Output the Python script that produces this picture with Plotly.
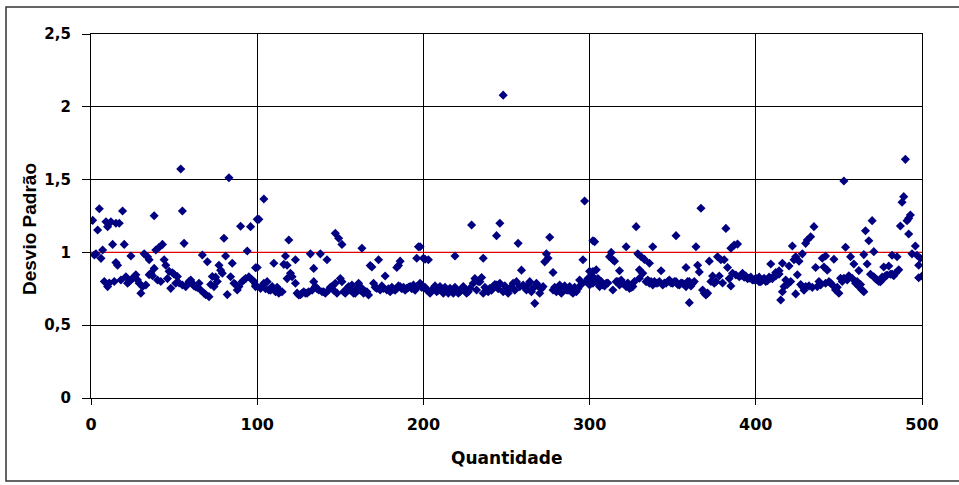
import plotly.graph_objects as go

# Segment 0-100
x_a = [1,5,19,38,10,4,9,12,15,17,54,55,83,90,96,100,80,13,20,56,43,41,39,94,7,2,6,24,32,34,35,67,70,81,85,15,16,44,45,99,38,36,35,77,78,79,73,47,49,50,52,42,46,
       10,14,18,21,22,26,27,28,29,31,33,30,48,51,55,57,60,61,63,65,66,68,69,71,74,76,82,84,86,88,89,92,95,97,98,99,3,8,11,23,25,37,40,53,58,59,62,64,72,75,87,91,93]
y_a = [1.22,1.30,1.284,1.252,1.177,1.154,1.21,1.21,1.20,1.20,1.573,1.284,1.513,1.18,1.177,1.227,1.097,1.055,1.055,1.062,1.055,1.035,1.016,1.01,1.016,0.982,0.959,0.975,0.99,0.97,0.95,0.982,0.936,0.975,0.925,0.93,0.912,0.95,0.912,0.895,0.89,0.857,0.846,0.912,0.878,0.857,0.834,0.87,0.86,0.85,0.834,0.80,0.82,
       0.765,0.80,0.81,0.833,0.788,0.833,0.846,0.81,0.788,0.765,0.776,0.719,0.753,0.788,0.776,0.765,0.81,0.788,0.765,0.788,0.742,0.719,0.71,0.696,0.765,0.80,0.71,0.833,0.788,0.742,0.765,0.81,0.833,0.81,0.80,0.776,0.99,0.80,0.79,0.80,0.82,0.84,0.81,0.79,0.78,0.80,0.77,0.76,0.78,0.83,0.78,0.80,0.82]

# Segment 100-200
x_b = [104,101,119,147,149,151,163,197,117,123,132,138,142,110,116,118,100,134,168,169,173,186,185,184,196,201,120,121,118,123,150,177,
       99,102,104,106,107,109,111,113,115,125,127,129,131,134,135,137,139,141,143,145,147,151,153,155,157,159,161,163,165,167,170,172,174,176,178,180,182,184,186,188,190,192,194,196,198,199,
       171,175,179,181,183,185,187,189,191,193,195,197,103,105,108,112,114,124,126,128,130,133,136,140,144,146,148,152,154,156,158,160,162,164,166]
y_b = [1.367,1.227,1.085,1.131,1.097,1.055,1.028,1.039,0.975,0.95,0.99,0.99,0.95,0.925,0.918,0.912,0.896,0.89,0.91,0.90,0.95,0.94,0.91,0.896,0.96,0.953,0.857,0.833,0.82,0.788,0.82,0.838,
       0.765,0.753,0.788,0.799,0.742,0.765,0.73,0.719,0.73,0.707,0.719,0.719,0.73,0.799,0.765,0.742,0.73,0.719,0.742,0.765,0.788,0.799,0.719,0.765,0.776,0.719,0.788,0.753,0.73,0.707,0.788,0.753,0.742,0.753,0.742,0.73,0.748,0.753,0.765,0.76,0.753,0.765,0.776,0.765,0.788,0.76,
       0.76,0.77,0.75,0.76,0.74,0.77,0.75,0.74,0.76,0.75,0.74,0.77,0.77,0.75,0.74,0.76,0.73,0.72,0.71,0.73,0.72,0.74,0.75,0.73,0.76,0.74,0.72,0.73,0.75,0.74,0.72,0.75,0.74,0.72,0.73]

# Segment 200-300
x_c = [297,229,246,244,257,276,303,198,200,203,219,236,274,275,273,296,259,278,302,231,233,235,267,248,
       199,202,204,206,208,210,212,214,216,218,220,222,224,226,228,230,232,234,236,238,240,242,244,246,248,250,252,254,256,258,260,262,264,266,268,270,272,278,280,282,284,286,288,290,292,294,298,300,302,304,
       201,205,207,209,211,213,215,217,219,221,223,225,227,237,239,241,243,245,249,251,253,255,261,263,265,269,271,279,281,283,285,287,289,291,293,295,299]
y_c = [1.353,1.188,1.20,1.115,1.062,1.104,1.074,1.039,0.96,0.95,0.975,0.96,0.99,0.96,0.935,0.95,0.878,0.862,0.869,0.82,0.80,0.828,0.65,2.08,
       0.776,0.742,0.719,0.753,0.73,0.765,0.719,0.742,0.753,0.719,0.742,0.73,0.765,0.719,0.753,0.788,0.742,0.799,0.719,0.742,0.753,0.765,0.776,0.788,0.73,0.742,0.753,0.788,0.799,0.765,0.776,0.742,0.799,0.753,0.788,0.719,0.765,0.742,0.73,0.776,0.753,0.742,0.765,0.719,0.73,0.81,0.80,0.776,0.833,0.80,
       0.76,0.74,0.77,0.74,0.75,0.76,0.72,0.74,0.76,0.72,0.75,0.74,0.73,0.76,0.73,0.74,0.78,0.75,0.77,0.72,0.76,0.74,0.76,0.78,0.73,0.77,0.75,0.76,0.74,0.72,0.77,0.74,0.73,0.76,0.75,0.78,0.82]

# Segment 300-400
x_d = [367,328,382,352,302,322,338,364,385,387,389,313,312,314,315,329,331,333,336,377,379,381,372,300,304,318,330,332,343,358,365,366,383,374,378,360,
       300,302,304,306,308,310,314,316,318,320,322,324,326,330,334,336,338,340,342,344,346,348,350,352,354,356,358,360,362,368,369,370,375,376,385,386,388,390,392,394,396,398,400,402,404,
       301,305,307,309,311,317,319,321,323,325,327,335,337,339,341,345,347,349,351,353,355,357,359,361,363,371,373,380,384,391,393,395,397,399]
y_d = [1.303,1.177,1.165,1.115,1.08,1.039,1.039,1.039,1.028,1.05,1.057,1.0,0.97,0.95,0.94,0.99,0.97,0.952,0.925,0.97,0.95,0.95,0.94,0.87,0.88,0.874,0.88,0.857,0.874,0.896,0.912,0.866,0.896,0.838,0.838,0.655,
       0.81,0.788,0.799,0.765,0.776,0.788,0.742,0.799,0.776,0.788,0.765,0.753,0.765,0.822,0.799,0.788,0.776,0.788,0.799,0.776,0.788,0.81,0.788,0.799,0.776,0.788,0.765,0.799,0.788,0.742,0.719,0.707,0.788,0.799,0.77,0.856,0.845,0.833,0.856,0.838,0.822,0.81,0.816,0.799,0.81,
       0.84,0.82,0.80,0.77,0.79,0.80,0.81,0.78,0.79,0.76,0.80,0.81,0.80,0.80,0.79,0.79,0.80,0.79,0.80,0.78,0.79,0.78,0.80,0.77,0.80,0.72,0.80,0.79,0.82,0.84,0.83,0.82,0.83,0.81]

# Segment 400-500
x_e = [490,453,489,488,493,492,491,487,492,470,466,468,435,433,431,430,422,454,496,471,465,428,424,423,426,440,442,447,457,482,485,494,497,499,498,409,416,420,436,441,443,459,462,467,477,480,425,412,414,498,500,
       400,401,403,405,407,409,412,414,418,417,416,415,424,428,430,437,439,442,444,446,448,450,451,453,458,460,462,464,465,471,473,475,477,479,482,484,
       402,404,406,408,410,411,419,421,427,429,432,434,438,445,449,452,455,456,461,463,469,472,474,476,478,481,483,486]
y_e = [1.639,1.49,1.383,1.344,1.257,1.234,1.218,1.181,1.126,1.218,1.149,1.08,1.177,1.108,1.085,1.062,1.044,1.035,1.044,1.005,0.985,0.99,0.97,0.95,0.94,0.96,0.975,0.953,0.97,0.98,0.97,0.99,0.98,0.96,0.912,0.92,0.925,0.907,0.896,0.90,0.878,0.92,0.875,0.92,0.90,0.907,0.846,0.862,0.874,0.826,0.838,
       0.822,0.81,0.799,0.822,0.806,0.822,0.838,0.851,0.81,0.765,0.73,0.673,0.715,0.765,0.765,0.765,0.776,0.788,0.799,0.776,0.742,0.719,0.822,0.822,0.822,0.788,0.765,0.742,0.73,0.833,0.81,0.799,0.822,0.845,0.851,0.856,
       0.83,0.81,0.80,0.83,0.82,0.84,0.78,0.80,0.78,0.74,0.77,0.76,0.80,0.79,0.76,0.80,0.81,0.84,0.80,0.78,0.85,0.82,0.80,0.83,0.84,0.85,0.84,0.88]

x_vals = x_a + x_b + x_c + x_d + x_e
y_vals = y_a + y_b + y_c + y_d + y_e

ref_x = [0, 500]
ref_y = [1, 1]

x_ticks = [0, 100, 200, 300, 400, 500]
x_tick_text = ["0", "100", "200", "300", "400", "500"]
y_ticks = [0, 0.5, 1, 1.5, 2, 2.5]
y_tick_text = ["0", "0,5", "1", "1,5", "2", "2,5"]

x_title = "Quantidade"
y_title = "Desvio Padrão"

W, H = 959, 485
L, R, T, B = 91, 37, 34, 87
PW, PH = W - L - R, H - T - B

def px(xp):
    return (xp - L) / PW

def py(yp):
    return (H - B - yp) / PH

fig = go.Figure()
fig.add_trace(go.Scatter(
    x=ref_x, y=ref_y, mode="lines",
    line=dict(color="#e00000", width=1.3), hoverinfo="skip", showlegend=False))
fig.add_trace(go.Scatter(
    x=x_vals, y=y_vals, mode="markers",
    marker=dict(symbol="diamond", size=7, color="#000080", line=dict(width=0)),
    showlegend=False))

wide = "DejaVu Sans, Verdana, sans-serif"
narrow = "Liberation Sans Narrow, Arial Narrow, sans-serif"

fig.update_layout(
    width=W, height=H,
    margin=dict(l=L, r=R, t=T, b=B),
    paper_bgcolor="white", plot_bgcolor="white",
    font=dict(family=wide, size=13, color="black"),
    xaxis=dict(
        range=[0, 500], tickvals=x_ticks, ticktext=x_tick_text,
        showgrid=True, gridcolor="black", gridwidth=1.2,
        showline=True, linecolor="black", linewidth=1.2, mirror=True,
        ticks="outside", ticklen=6, tickcolor="black", tickwidth=1.2,
        ticklabelstandoff=6,
        tickfont=dict(family=wide, size=16, color="black", weight="bold"),
        zeroline=False,
    ),
    yaxis=dict(
        range=[0, 2.5], tickvals=y_ticks, ticktext=y_tick_text,
        showgrid=True, gridcolor="black", gridwidth=1.2,
        showline=True, linecolor="black", linewidth=1.2, mirror=True,
        ticks="outside", ticklen=8, tickcolor="black", tickwidth=1.2,
        ticklabelstandoff=8,
        tickfont=dict(family=wide, size=15, color="black", weight="bold"),
        zeroline=False,
    ),
    annotations=[
        dict(text="<b>" + x_title + "</b>", xref="paper", yref="paper",
             x=0.5, y=py(458), xanchor="center", yanchor="middle", showarrow=False,
             font=dict(family=wide, size=17, color="black")),
        dict(text="<b>" + y_title + "</b>", xref="paper", yref="paper",
             x=px(29), y=py(229), xanchor="center", yanchor="middle", showarrow=False,
             textangle=-90, font=dict(family=narrow, size=19, color="black")),
    ],
    shapes=[dict(
        type="rect", xref="paper", yref="paper",
        x0=px(6), x1=px(964), y0=py(481), y1=py(7),
        line=dict(color="#333333", width=1.5), fillcolor="rgba(0,0,0,0)", layer="below")],
)

fig.write_html("out.html", config={"displayModeBar": False},
               post_script="document.body.style.margin='0';document.body.style.padding='0';")
